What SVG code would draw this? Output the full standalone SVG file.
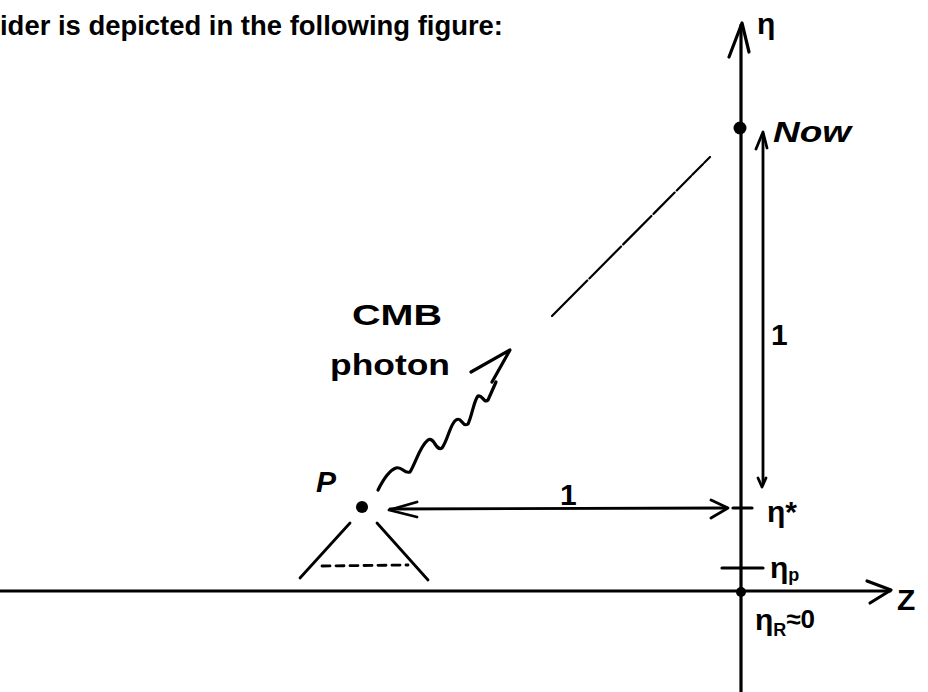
<svg xmlns="http://www.w3.org/2000/svg" width="928" height="692" viewBox="0 0 928 692">
<style>
.ln{stroke:#000;fill:none;stroke-linecap:round;stroke-linejoin:round}
.ax{stroke-width:3.2}
.th{stroke-width:2.8}
.lbl{font-family:"Liberation Sans","DejaVu Sans",sans-serif;fill:#000}
.hw{font-family:"Liberation Sans","DejaVu Sans",sans-serif;fill:#000;font-size:30px;font-weight:bold}
</style>
<rect width="928" height="692" fill="#fff"/>
<text class="lbl" x="0" y="35" font-size="28" font-weight="bold" textLength="503" lengthAdjust="spacingAndGlyphs">ider is depicted in the following figure:</text>

<g id="eta-axis">
<path class="ln ax" d="M741,692 L741,25"/>
<path class="ln ax" d="M729,57 L742,23 L749,52"/>
<text class="hw" x="757" y="34" font-size="36">η</text>
</g>
<g id="z-axis">
<path class="ln ax" d="M0,591 L890,591"/>
<path class="ln ax" d="M867,581 L891,590 L870,603"/>
<text class="hw" x="897" y="610" font-size="30">Z</text>
</g>
<g id="now">
<circle cx="740" cy="128" r="6.5" fill="#000"/>
<text class="hw" x="773" y="142" font-size="31" font-style="italic" textLength="78" lengthAdjust="spacingAndGlyphs">Now</text>
</g>
<g id="origin">
<circle cx="741" cy="592" r="5" fill="#000"/>
<text class="hw" x="755" y="630" font-size="30">η<tspan font-size="18" dy="6">R</tspan><tspan font-size="26" dy="-8">≈0</tspan></text>
</g>
<g id="eta-star">
<path class="ln ax" d="M733,508 L752,508"/>
<text class="hw" x="767" y="522" font-size="40">η*</text>
</g>
<g id="eta-p">
<path class="ln ax" d="M722,568 L763,568"/>
<text class="hw" x="770" y="578" font-size="28">η<tspan font-size="18" dy="3">p</tspan></text>
</g>
<g id="P">
<circle cx="362" cy="507" r="6" fill="#000"/>
<text class="hw" x="316" y="492" font-size="34" font-style="italic">P</text>
<path class="ln th" d="M350,523 L300,578"/>
<path class="ln th" d="M377,523 L428,580"/>
<path class="ln th" d="M322,566 L408,565" stroke-dasharray="8,6"/>
</g>
<g id="cmb-label">
<text class="hw" x="352" y="325" font-size="30" font-weight="normal" textLength="90" lengthAdjust="spacingAndGlyphs">CMB</text>
<text class="hw" x="330" y="375" font-size="30" font-weight="normal" textLength="120" lengthAdjust="spacingAndGlyphs">photon</text>
</g>

<g id="connectors">
<g id="time-arrow">
<path class="ln th" d="M763,134 L763,484"/>
<path class="ln th" d="M756,149 L763,132 L767,148"/>
<path class="ln th" d="M758,478 L762,487 L766,478"/>
<text class="hw" x="771" y="345" font-size="34">1</text>
</g>
<g id="distance-arrow">
<path class="ln th" d="M390,509 L727,508"/>
<path class="ln th" d="M417,502 L389,510 L417,517"/>
<path class="ln th" d="M711,500 L728,508 L711,518"/>
<text class="hw" x="560" y="505" font-size="32">1</text>
</g>
<g id="photon">
<path class="ln" stroke-width="3.2" d="M378,490 C384,478 390,470 396,468 C402,466 404,474 410,472 C416,462 420,446 428,440 C434,436 436,452 442,448 C448,440 450,424 456,420 C462,416 462,428 468,424 C472,416 474,400 478,396 C482,394 484,404 488,400 L496,382"/>
<path class="ln" stroke-width="3.2" d="M471,372 L510,350 L492,382"/>
</g>
<path id="light-ray" class="ln" stroke-width="2.2" d="M552,316 L710,157" stroke-dasharray="50,3,45,3,40,3,30,3,20,2,15,2,10,2"/>
</g>
</svg>
